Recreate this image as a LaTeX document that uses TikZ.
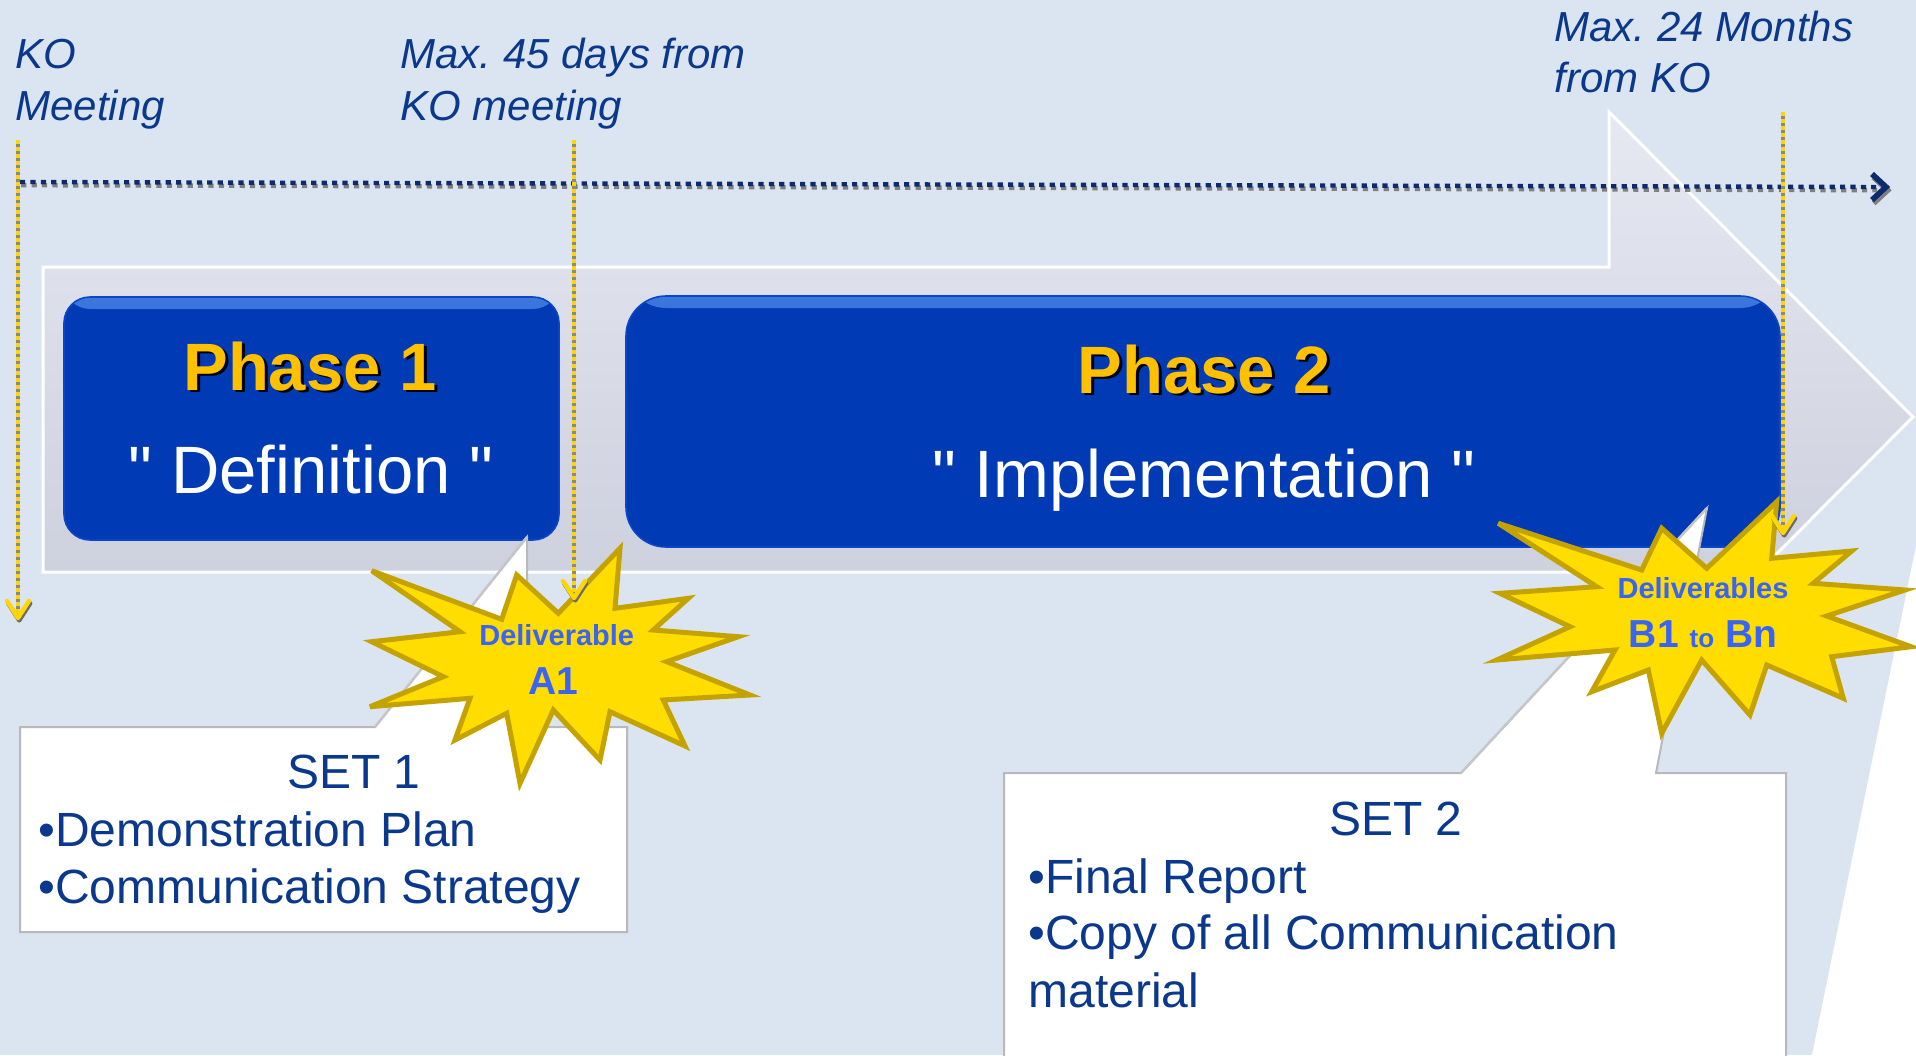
\documentclass[tikz,border=0pt]{standalone}
\usepackage{fontspec}
\setmainfont{Liberation Sans}
\frenchspacing
\definecolor{bg}{RGB}{219,229,241}
\definecolor{navy}{RGB}{10,56,140}
\definecolor{tlnavy}{RGB}{14,42,110}
\definecolor{phblue}{RGB}{0,58,180}
\definecolor{phedge}{RGB}{10,70,200}
\definecolor{phhi}{RGB}{100,160,250}
\definecolor{phyellow}{RGB}{255,192,0}
\definecolor{staryel}{RGB}{255,221,0}
\definecolor{starbd}{RGB}{196,163,0}
\definecolor{startxt}{RGB}{58,100,245}
\definecolor{arrtop}{RGB}{230,232,242}
\definecolor{arrbot}{RGB}{198,201,215}
\definecolor{ydash}{RGB}{255,214,0}
\definecolor{gdash}{RGB}{135,135,140}
\begin{document}
\begin{tikzpicture}[x=0.5pt,y=-0.5pt,
  phasebox/.style={draw=phedge, line width=0.8pt, fill=phblue,
    path picture={\fill[top color=phhi!60!phblue, middle color=phhi, bottom color=phblue]
      (path picture bounding box.north west) rectangle ([yshift=-6pt]path picture bounding box.north east);}},
  phtitle/.style={font=\bfseries\fontsize{33.5}{40}\selectfont, text=phyellow, inner sep=0pt, anchor=base},
  phshadow/.style={font=\bfseries\fontsize{33.5}{40}\selectfont, text=black, inner sep=0pt, anchor=base},
  phsub/.style={font=\fontsize{33.5}{40}\selectfont, text=white, inner sep=0pt, anchor=base},
  toplab/.style={font=\itshape\fontsize{21}{25}\selectfont, text=navy, inner sep=0pt, anchor=base west},
  boxtxt/.style={font=\fontsize{24}{28}\selectfont, text=navy, inner sep=0pt},
  callout/.style={fill=white, draw=gray!55, line width=1pt, line join=miter},
  burst/.style={fill=staryel, draw=starbd, line width=2.5pt, line join=miter, miter limit=6},
  sttxt/.style={font=\bfseries\fontsize{14.5}{17}\selectfont, text=startxt, inner sep=0pt, anchor=base},
  stbig/.style={font=\bfseries\fontsize{19.5}{23}\selectfont, text=startxt, inner sep=0pt, anchor=base},
  ygrey/.style={draw=gdash, line width=2pt},
  yyel/.style={draw=ydash, line width=2pt, dash pattern=on 2.2pt off 1.3pt},
  yhead/.style={draw=ydash, line width=2.2pt, line cap=round, line join=round},
  yheadsh/.style={draw=gdash!80!black, line width=2.2pt, line cap=round, line join=round},
  tlline/.style={draw=tlnavy, line width=2.2pt, dash pattern=on 2.6pt off 2.6pt},
  tlshadow/.style={draw=gray, line width=2.2pt, dash pattern=on 2.6pt off 2.6pt},
  tlhead/.style={draw=tlnavy, line width=2.8pt, line join=miter},
  tlheadsh/.style={draw=gray, line width=2.8pt, line join=miter}
]
\useasboundingbox (0,0) rectangle (1916,1055);
\fill[bg] (0,0) rectangle (1916,1055);
\fill[white] (1916,546) -- (1916,1055) -- (1812,1055) -- cycle;

% big background arrow
\draw[white, line width=1.5pt, top color=arrtop, bottom color=arrbot]
  (43,267) -- (1609,267) -- (1609,112) -- (1913,417) -- (1609,722) -- (1609,572) -- (43,572) -- cycle;

% timeline
\coordinate (t0) at (20,182);
\coordinate (t1) at (1876,187);
\coordinate (tt) at (1886,187);
\draw[tlshadow, transform canvas={xshift=0.6pt,yshift=-1.6pt}] (t0) -- (t1);
\draw[tlline] (t0) -- (t1);
\draw[tlheadsh, transform canvas={xshift=0.8pt,yshift=-1.6pt}] (tt) ++(-14,-13) -- (tt) -- ++(-14,13);
\draw[tlhead] (tt) ++(-14,-13) -- (tt) -- ++(-14,13);

% phase boxes
\node[phasebox, minimum width=247.5pt, minimum height=121.5pt, rounded corners=13pt] (ph1) at (311.5,418.5) {};
\node[phasebox, minimum width=577pt, minimum height=125.5pt, rounded corners=20pt] (ph2) at (1203,421.5) {};

\node[phshadow] (p1s) at (313,392.5) {Phase 1};
\node[phtitle] (p1t) at (310,390) {Phase 1};
\node[phsub] (p1d) at (311,493) {\textquotedbl{} Definition \textquotedbl};
\node[phshadow] (p2s) at (1207,395.5) {Phase 2};
\node[phtitle] (p2t) at (1204,393) {Phase 2};
\node[phsub] (p2d) at (1204,497) {\textquotedbl{} Implementation \textquotedbl};

% callouts
\coordinate (c1tip) at (527,537);
\coordinate (c2tip) at (1707,508);
\draw[callout] (20,727) -- (375,727) -- (c1tip) -- (528,727) -- (627,727) -- (627,932) -- (20,932) -- cycle;
\draw[gray!45, line width=1.2pt] (375,727) -- (c1tip);
\draw[callout] (1004,773) -- (1461,773) -- (c2tip) -- (1656,773) -- (1786,773) -- (1786,1062) -- (1004,1062) -- cycle;
\draw[gray!45, line width=1.2pt] (1461,773) -- (c2tip);

\node[boxtxt, anchor=base] (s1) at (354,788) {SET 1};
\node[boxtxt, anchor=base west] (s1a) at (38,846) {•Demonstration Plan};
\node[boxtxt, anchor=base west] (s1b) at (38,903) {•Communication Strategy};
\node[boxtxt, anchor=base] (s2) at (1396,835) {SET 2};
\node[boxtxt, anchor=base west] (s2a) at (1028,893) {•Final Report};
\node[boxtxt, anchor=base west] (s2b) at (1028,949) {•Copy of all Communication};
\node[boxtxt, anchor=base west] (s2c) at (1028,1007) {material};

% starbursts
\draw[burst] (371.7,570.7) -- (501.7,619.3) -- (516.7,575) -- (558.3,613.3) -- (620,548.3) -- (615,608.3)
  -- (688.3,598.3) -- (653.3,630) -- (738.3,636.7) -- (666.7,661.7) -- (750,695) -- (663.3,700)
  -- (685,746) -- (610,711.7) -- (600,760) -- (553.3,710) -- (520,783.3) -- (506.7,713.3)
  -- (455,740) -- (470,698.3) -- (370,706.7) -- (443.3,676.7) -- (371.7,641.7) -- (460,631.7) -- cycle;
\draw[burst] (1498.3,523.3) -- (1641.7,570) -- (1661.7,528.3) -- (1706.7,568.3) -- (1776.7,501.7) -- (1771.7,558.3)
  -- (1851.7,551) -- (1813.3,583.3) -- (1905,590) -- (1826.7,616) -- (1911,646.7) -- (1831.7,656.7)
  -- (1843.3,698.3) -- (1766.7,665) -- (1750,715) -- (1701.7,660) -- (1661.7,733.3) -- (1648.3,670)
  -- (1591.7,691.7) -- (1615,650) -- (1496.7,660) -- (1570,626.7) -- (1500,593.3) -- (1596.7,586.7) -- cycle;

\node[sttxt] (dA) at (556.7,645) {Deliverable};
\node[stbig] (A1) at (553,694) {A1};
\node[sttxt] (dB) at (1703,598) {Deliverables};
\node[stbig] (B1) at (1703,647) {B1 {\fontsize{13}{15}\selectfont to} Bn};

% yellow milestone lines
\coordinate (y1a) at (18,140);  \coordinate (y1b) at (18,618);
\coordinate (y2a) at (574,140); \coordinate (y2b) at (574,598);
\coordinate (y3a) at (1783,112); \coordinate (y3b) at (1783,533);
\foreach \a/\b in {y1a/y1b, y2a/y2b, y3a/y3b}{
  \draw[ygrey] (\a) -- (\b);
  \draw[yyel] (\a) -- (\b);
  \draw[yheadsh, transform canvas={xshift=0.6pt,yshift=-1.2pt}] (\b) ++(-11,-17) -- (\b) -- ++(11,-17);
  \draw[yhead] (\b) ++(-11,-17) -- (\b) -- ++(11,-17);
}

% top labels
\node[toplab] (ko1) at (15,68) {KO};
\node[toplab] (ko2) at (15,120) {Meeting};
\node[toplab] (m451) at (400,68) {Max. 45 days from};
\node[toplab] (m452) at (400,120) {KO meeting};
\node[toplab] (m241) at (1554,41) {Max. 24 Months};
\node[toplab] (m242) at (1554,92) {from KO};
\end{tikzpicture}
\end{document}
